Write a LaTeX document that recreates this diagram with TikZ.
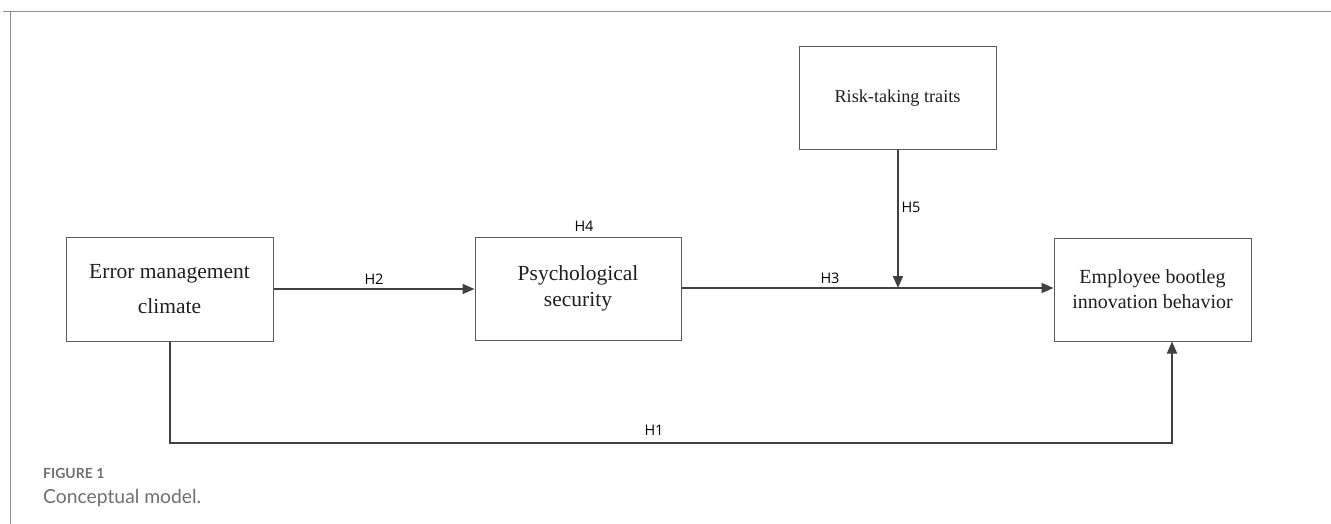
\documentclass[tikz,border=0pt]{standalone}
\usepackage{fontspec}
\setmainfont{Liberation Serif}
\newfontfamily\labfont{Open Sans}
\newfontfamily\capfont{Lato}
\usetikzlibrary{arrows.meta}
\definecolor{boxline}{HTML}{5A5A5A}
\definecolor{arrline}{HTML}{404040}
\definecolor{framegray}{HTML}{8C8C8C}
\definecolor{capgray}{HTML}{707070}
\tikzset{
  varbox/.style={draw=boxline, line width=1pt, rectangle, align=center, inner sep=0pt, text=black!88},
  arr/.style={draw=arrline, line width=1.8pt, -{Triangle[length=12pt,width=10pt]}},
  hlab/.style={font=\labfont\fontsize{14.5}{16}\selectfont, text=black, anchor=base, inner sep=0pt},
}
\begin{document}
\begin{tikzpicture}[x=1pt,y=-1pt]
\useasboundingbox (0,0) rectangle (1331,524);
\fill[white] (0,0) rectangle (1331,524);
% frame
\draw[framegray, line width=1pt] (3,12) -- (1331,12);
\draw[framegray, line width=1pt] (10,12) -- (10,524);
% boxes
\node[varbox, minimum width=207pt, minimum height=104pt, font=\fontsize{21.5}{35}\selectfont] (em) at (169.5,289) {Error management\\climate};
\node[varbox, minimum width=206pt, minimum height=103pt, font=\fontsize{21.5}{26}\selectfont] (ps) at (578,288.5) {Psychological\\security};
\node[varbox, minimum width=197pt, minimum height=103pt, font=\fontsize{18.2}{22}\selectfont] (rt) at (897.5,98.5) {Risk-taking traits};
\node[varbox, minimum width=197pt, minimum height=103pt, font=\fontsize{20}{25}\selectfont] (eb) at (1152.5,289.5) {Employee bootleg\\innovation behavior};
% connectors
\coordinate (mod) at (898,288);
\coordinate (c1) at (1172,443);
\draw[arr] (em.east |- 0,289) -- (ps.west |- 0,289);
\draw[arr] (ps.east |- 0,288) -- (eb.west |- 0,288);
\draw[arr] (rt.south -| mod) -- (mod);
\draw[arr] (em.south -| 170,0) |- (c1) -- (c1 |- eb.south);
% labels
\node[hlab] (h2) at (374,284) {H2};
\node[hlab] (h4) at (584,231.5) {H4};
\node[hlab] (h3) at (830,283) {H3};
\node[hlab] (h5) at (911,212) {H5};
\node[hlab] (h1) at (654,435) {H1};
% caption
\node[anchor=base west, inner sep=0pt, text=capgray, font=\capfont\bfseries\fontsize{14}{16}\selectfont] (fig) at (43,478.5) {FIGURE 1};
\node[anchor=base west, inner sep=0pt, text=capgray, font=\capfont\fontsize{19.3}{22}\selectfont] (cap) at (43,503) {Conceptual model.};
\end{tikzpicture}
\end{document}
